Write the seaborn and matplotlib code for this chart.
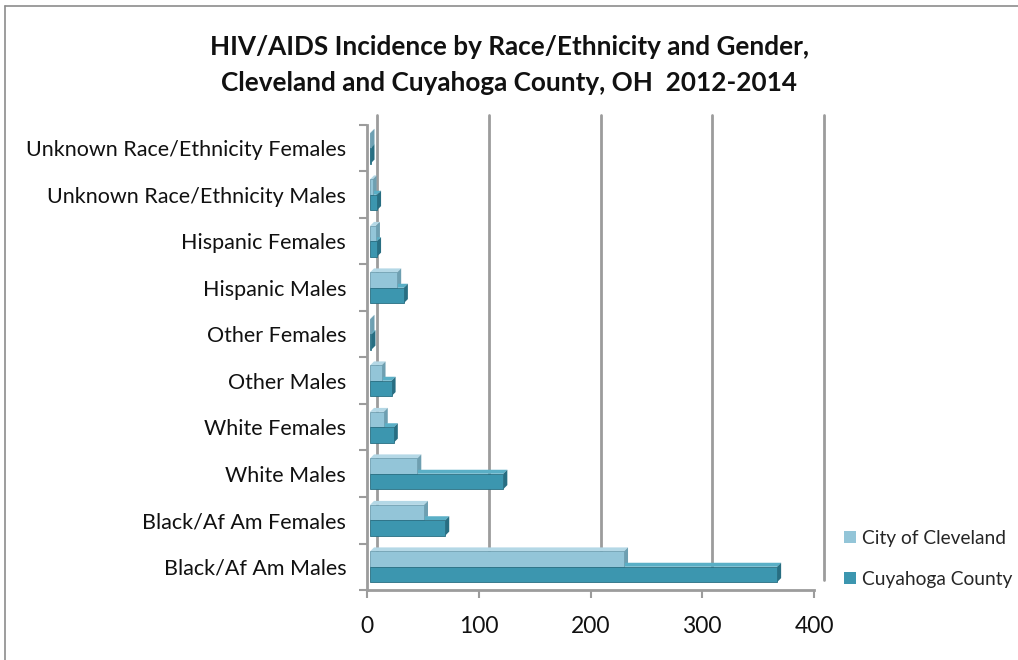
import matplotlib
matplotlib.use("Agg")
import matplotlib.pyplot as plt
from matplotlib.patches import Polygon, Patch
from matplotlib.lines import Line2D
from matplotlib.transforms import ScaledTranslation
import seaborn as sns
import pandas as pd
import numpy as np

# Categories listed from top of the chart to bottom
groups = [
    "Unknown Race/Ethnicity Females",
    "Unknown Race/Ethnicity Males",
    "Hispanic Females",
    "Hispanic Males",
    "Other Females",
    "Other Males",
    "White Females",
    "White Males",
    "Black/Af Am Females",
    "Black/Af Am Males",
]
cleveland = [2, 5, 8, 27, 2, 13, 15, 45, 51, 230]
cuyahoga = [3, 9, 9, 33, 4, 22, 24, 122, 70, 367]
series = ["City of Cleveland", "Cuyahoga County"]
x_ticks = [0, 100, 200, 300, 400]

colors = {"City of Cleveland": "#93C5D8", "Cuyahoga County": "#3C96AF"}
tops = {"City of Cleveland": "#B4D8E6", "Cuyahoga County": "#5AAFC6"}
sides = {"City of Cleveland": "#6E9FB1", "Cuyahoga County": "#286E82"}

df = pd.DataFrame({
    "group": groups * 2,
    "value": cleveland + cuyahoga,
    "area": [series[0]] * len(groups) + [series[1]] * len(groups),
})

sns.set_theme(style="white")
plt.rcParams["font.family"] = ["Lato", "DejaVu Sans"]

W, H = 1018, 660
fig = plt.figure(figsize=(W / 100, H / 100), dpi=100)
ax = fig.add_axes([367 / W, 1 - 590 / H, (814 - 367) / W, (590 - 125) / H])

sns.barplot(data=df, y="group", x="value", hue="area", order=groups,
            hue_order=series, palette=colors, orient="h", width=0.66,
            saturation=1, legend=False, ax=ax, linewidth=0)

ax.set_xlim(0, 400)
ax.set_ylim(len(groups) - 0.5, -0.5)

# 3-D look: top and side faces derived from each bar's geometry
px_x = 400 / (814 - 367)
px_y = len(groups) / (590 - 125)
dx, dy = 4 * px_x, 4 * px_y
bars = list(ax.patches)
for i, p in enumerate(bars):
    name = series[i // len(groups)]
    x0, y0 = p.get_x(), p.get_y()
    w, h = p.get_width(), p.get_height()
    ytop, ybot = y0, y0 + h
    xs = x0 + 3 * px_x
    p.set_x(xs)
    p.set_width(max(w - 3 * px_x, 0.5 * px_x))
    x1 = xs + p.get_width()
    top = Polygon([(xs, ytop), (x1, ytop), (x1 + dx, ytop - dy), (xs + dx, ytop - dy)],
                  closed=True, facecolor=tops[name], edgecolor="none", zorder=1.5)
    side = Polygon([(x1, ytop), (x1 + dx, ytop - dy), (x1 + dx, ybot - dy), (x1, ybot)],
                   closed=True, facecolor=sides[name], edgecolor="none", zorder=1.5)
    ax.add_patch(top)
    ax.add_patch(side)
    p.set_zorder(2)
    p.set_edgecolor(sides[name])
    p.set_linewidth(0.6)

# Back-wall gridlines, pushed back to give depth
ax.set_xticks(x_ticks)
ax.grid(axis="x", color="#9C9C9C", linewidth=2)
ax.set_axisbelow(True)
shift = ScaledTranslation(10 / 100, 10 / 100, fig.dpi_scale_trans)
for gl in ax.get_xgridlines():
    gl.set_transform(gl.get_transform() + shift)
    gl.set_clip_on(False)

for s in ["top", "right"]:
    ax.spines[s].set_visible(False)
for s in ["left", "bottom"]:
    ax.spines[s].set_color("#9C9C9C")
    ax.spines[s].set_linewidth(2)

ax.set_yticks(np.arange(len(groups) + 1) - 0.5, minor=True)
ax.tick_params(axis="y", which="major", length=0, pad=15, labelsize=15.5)
ax.tick_params(axis="y", which="minor", left=True, length=6, width=1.5, color="#9C9C9C")
ax.tick_params(axis="x", bottom=True, length=6, width=1.5, color="#9C9C9C",
               pad=13, labelsize=16.5)
ax.set_xlabel("")
ax.set_ylabel("")
for lbl in ax.get_yticklabels() + ax.get_xticklabels():
    lbl.set_color("#111111")

fig.suptitle("HIV/AIDS Incidence by Race/Ethnicity and Gender,\n"
             "Cleveland and Cuyahoga County, OH  2012-2014",
             x=0.5, y=1 - 35 / H, fontsize=18.8, fontweight="bold",
             linespacing=1.6, color="#111111")

handles = [Patch(facecolor=colors[s], edgecolor="none") for s in series]
fig.legend(handles, series, loc="center left",
           bbox_to_anchor=(827 / W, 1 - 559 / H), frameon=False,
           fontsize=13.8, labelspacing=1.25, handlelength=0.6, handleheight=0.6,
           handletextpad=0.35)

# Thin chart frame on the left and top
fig.add_artist(Line2D([5 / W, 5 / W], [0, 1 - 6 / H], transform=fig.transFigure,
                      color="#8C8C8C", linewidth=1.2))
fig.add_artist(Line2D([5 / W, 1], [1 - 6 / H, 1 - 6 / H], transform=fig.transFigure,
                      color="#8C8C8C", linewidth=1.2))

fig.savefig("out.png", dpi=100, facecolor="white")
